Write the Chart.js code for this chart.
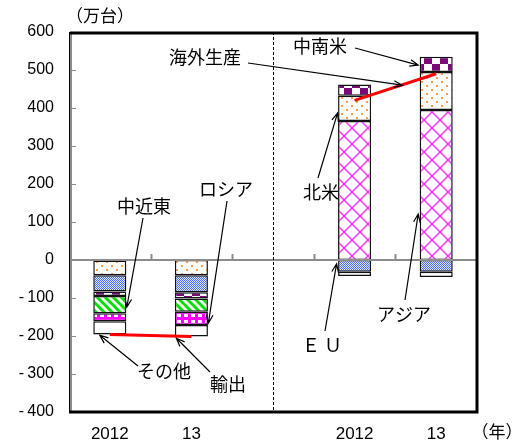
<!DOCTYPE html>
<html lang="ja">
<head>
<meta charset="utf-8">
<script src="https://cdn.jsdelivr.net/npm/chart.js@4.4.1/dist/chart.umd.min.js"></script>
<style>
  html, body { margin: 0; padding: 0; background: #fff; }
  #wrap { width: 530px; height: 444px; position: relative; }
</style>
</head>
<body>
<div id="wrap"><canvas id="chart"></canvas></div>
<script>
// 輸出（左2本）と海外生産（右2本）の地域別内訳、単位：万台
const categories = ['2012', '13', '', '2012', '13'];

const asia       = [-1, null, null, 366, 395];
const northAm    = [-39, -40, null, 66, 100];
const eu         = [-43, -45, null, -31, -31];
const latinAm    = [-12, -16, null, 30, 40];
const middleEast = [-45, -35, null, null, null];
const russia     = [-21, -35, null, null, null];
const others     = [-35, -30, null, -11, -14];

// 合計（輸出／海外生産）を結ぶ赤線
const totals = [-196, -201, null, 420, 490];

const yTicks = [-400, -300, -200, -100, 0, 100, 200, 300, 400, 500, 600];

const JP_FONT = '"Noto Sans CJK JP", "Noto Sans", sans-serif';
const NUM_FONT = '"Liberation Sans", Arial, sans-serif';

const canvas = document.getElementById('chart');
const ctx2d = canvas.getContext('2d');

function makePattern(w, h, draw) {
  const c = document.createElement('canvas');
  c.width = w;
  c.height = h;
  const g = c.getContext('2d');
  g.fillStyle = '#fff';
  g.fillRect(0, 0, w, h);
  draw(g, w, h);
  return ctx2d.createPattern(c, 'repeat');
}

// ハッチング類
const dotsOrange = makePattern(10, 8, g => {
  g.fillStyle = '#ff9c45';
  g.fillRect(1, 1, 2, 2);
  g.fillRect(6, 5, 2, 2);
});

const fineBlue = makePattern(2, 2, g => {
  g.fillStyle = '#dfe6ff';
  g.fillRect(0, 0, 2, 2);
  g.fillStyle = '#4d6ef0';
  g.fillRect(0, 0, 1, 1);
  g.fillRect(1, 1, 1, 1);
});

const purpleCheck = makePattern(16, 16, g => {
  g.fillStyle = '#7a0a7a';
  g.fillRect(0, 0, 8, 8);
  g.fillRect(8, 8, 8, 8);
});

const greenDiag = makePattern(8, 8, g => {
  g.strokeStyle = '#00e000';
  g.lineWidth = 3;
  for (const off of [-8, 0, 8]) {
    g.beginPath();
    g.moveTo(off - 1, -1);
    g.lineTo(off + 9, 9);
    g.stroke();
  }
});

const magentaGrid = makePattern(7, 6, g => {
  g.fillStyle = '#ff00ff';
  g.fillRect(0, 0, 7, 6);
  g.fillStyle = '#fff';
  g.fillRect(2, 2, 4, 3);
});

const magentaCross = makePattern(16, 16, g => {
  g.strokeStyle = '#ff33ff';
  g.lineWidth = 1.5;
  g.beginPath();
  g.moveTo(-1, -1); g.lineTo(17, 17);
  g.moveTo(17, -1); g.lineTo(-1, 17);
  g.stroke();
});

function barSet(label, data, fill) {
  return {
    type: 'bar',
    label,
    data,
    backgroundColor: fill,
    borderColor: '#111',
    borderWidth: 1.5,
    borderSkipped: false,
    stack: 'region',
    order: 1,
  };
}

// 注記：文字位置(px)、線の始点(px)、矢印の先（カテゴリ番号, x方向ずれpx, 値）
const notes = [
  { text: '中近東', tx: 144, ty: 206, from: [143, 218], to: [0, 17, -124] },
  { text: 'ロシア', tx: 226, ty: 189, from: [227, 201], to: [1, 17, -166] },
  { text: 'その他', tx: 164, ty: 371, from: [138, 366], to: [0, -10, -198] },
  { text: '輸出', tx: 228, ty: 384, from: [210, 372], to: [1, -15, -206] },
  { text: '海外生産', tx: 205, ty: 57, from: [248, 63], to: [4, -34, 460] },
  { text: '中南米', tx: 320, ty: 46, from: [355, 48], to: [4, -18, 513] },
  { text: '北米', tx: 321, ty: 192, from: [318, 178], to: [3, -17, 387] },
  { text: 'アジア', tx: 404, ty: 314, from: [405, 300], to: [4, -18, 121] },
  { text: 'Ｅ Ｕ', tx: 322, ty: 345, from: [325, 331], to: [3, -18, -10] },
];

function arrow(ctx, x1, y1, x2, y2) {
  const ang = Math.atan2(y2 - y1, x2 - x1);
  const len = 9, spread = 0.38;
  ctx.beginPath();
  ctx.moveTo(x1, y1);
  ctx.lineTo(x2, y2);
  ctx.moveTo(x2 - len * Math.cos(ang - spread), y2 - len * Math.sin(ang - spread));
  ctx.lineTo(x2, y2);
  ctx.lineTo(x2 - len * Math.cos(ang + spread), y2 - len * Math.sin(ang + spread));
  ctx.stroke();
}

const framePlugin = {
  id: 'frame',
  afterDatasetsDraw(chart) {
    const { ctx, chartArea: a, scales: { x, y } } = chart;
    const y0 = y.getPixelForValue(0);
    ctx.save();

    // ゼロ線と区切り目盛
    ctx.strokeStyle = '#8c8c8c';
    ctx.lineWidth = 2;
    ctx.beginPath();
    ctx.moveTo(a.left, y0);
    ctx.lineTo(a.right, y0);
    for (let i = 0; i < categories.length - 1; i++) {
      const bx = Math.round((x.getPixelForValue(i) + x.getPixelForValue(i + 1)) / 2) + 0.5;
      ctx.moveTo(bx, y0);
      ctx.lineTo(bx, y0 - 6);
    }
    ctx.stroke();

    // 縦軸と目盛
    ctx.beginPath();
    ctx.lineWidth = 1;
    yTicks.forEach(v => {
      const py = Math.round(y.getPixelForValue(v)) + 0.5;
      ctx.moveTo(a.left + 2, py);
      ctx.lineTo(a.left + 7, py);
    });
    ctx.stroke();
    ctx.lineWidth = 2;
    ctx.beginPath();
    ctx.moveTo(a.left + 2, a.top);
    ctx.lineTo(a.left + 2, a.bottom);
    ctx.stroke();

    // 中央の点線
    const mx = Math.round(x.getPixelForValue(2)) + 0.5;
    ctx.strokeStyle = '#000';
    ctx.lineWidth = 1;
    ctx.setLineDash([3, 2]);
    ctx.beginPath();
    ctx.moveTo(mx, a.top);
    ctx.lineTo(mx, a.bottom);
    ctx.stroke();
    ctx.setLineDash([]);

    // 外枠
    ctx.strokeStyle = '#000';
    ctx.lineWidth = 1;
    ctx.strokeRect(a.left + 0.5, a.top + 0.5, a.right - a.left, a.bottom - a.top);
    ctx.lineWidth = 3;
    ctx.beginPath();
    ctx.moveTo(a.left + 1, a.top + 1);
    ctx.lineTo(a.right, a.top + 1);
    ctx.lineTo(a.right, a.bottom);
    ctx.lineTo(a.left, a.bottom);
    ctx.stroke();
    ctx.restore();
  },
  afterDraw(chart) {
    const { ctx, scales: { x, y } } = chart;
    ctx.save();
    ctx.fillStyle = '#000';
    ctx.textBaseline = 'middle';
    ctx.textAlign = 'center';

    ctx.font = '17px ' + JP_FONT;
    ctx.fillText('（万台）', 100, 16);
    ctx.fillText('（年）', 497, 432);

    ctx.strokeStyle = '#000';
    ctx.lineWidth = 1.2;
    notes.forEach(n => {
      ctx.font = '18px ' + JP_FONT;
      ctx.fillText(n.text, n.tx, n.ty);
      const [ci, dx, v] = n.to;
      arrow(ctx, n.from[0], n.from[1], x.getPixelForValue(ci) + dx, y.getPixelForValue(v));
    });
    ctx.restore();
  },
};

new Chart(canvas, {
  data: {
    labels: categories,
    datasets: [
      barSet('アジア', asia, magentaCross),
      barSet('北米', northAm, dotsOrange),
      barSet('ＥＵ', eu, fineBlue),
      barSet('中南米', latinAm, purpleCheck),
      barSet('中近東', middleEast, greenDiag),
      barSet('ロシア', russia, magentaGrid),
      barSet('その他', others, '#fff'),
      {
        type: 'line',
        label: '合計',
        data: totals,
        borderColor: '#ff0000',
        borderWidth: 3,
        pointRadius: 0,
        spanGaps: false,
        stack: 'total',
        order: 0,
      },
    ],
  },
  options: {
    responsive: true,
    maintainAspectRatio: false,
    animation: false,
    events: [],
    layout: { padding: { top: 32, right: 53, left: 0, bottom: 0 } },
    datasets: {
      bar: { categoryPercentage: 1, barPercentage: 0.405 },
    },
    plugins: {
      legend: { display: false },
      tooltip: { enabled: false },
      title: { display: false },
    },
    scales: {
      x: {
        stacked: true,
        grid: { display: false, drawTicks: false },
        border: { display: false },
        ticks: {
          color: '#000',
          font: { family: NUM_FONT, size: 17 },
          padding: 12,
          maxRotation: 0,
          autoSkip: false,
        },
        afterFit: s => { s.height = 32; },
      },
      y: {
        stacked: true,
        min: -400,
        max: 600,
        grid: { display: false, drawTicks: false },
        border: { display: false },
        ticks: {
          stepSize: 100,
          color: '#000',
          font: { family: NUM_FONT, size: 16 },
          padding: 15,
          callback: v => (v < 0 ? '-\u2009' + (-v) : String(v)),
        },
        afterFit: s => { s.width = 69; },
      },
    },
  },
  plugins: [framePlugin],
});
</script>
</body>
</html>
